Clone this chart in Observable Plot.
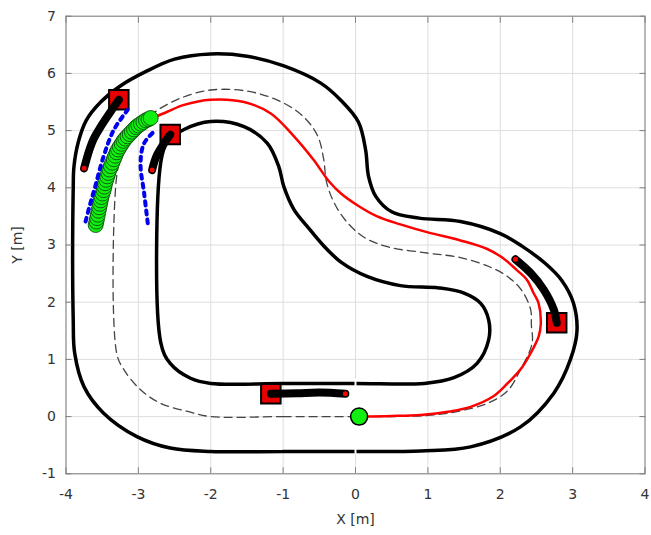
<!DOCTYPE html>
<html><head><meta charset="utf-8">
<script src="https://cdn.jsdelivr.net/npm/d3@7"></script>
<script src="https://cdn.jsdelivr.net/npm/@observablehq/plot@0.6"></script>
<style>html,body{margin:0;padding:0;background:#fff;}</style>
</head><body><div id="chart"></div>
<script>
const xTicks = [-4,-3,-2,-1,0,1,2,3,4];
const yTicks = [-1,0,1,2,3,4,5,6,7];

const outerBoundary = [
  [-2.0,-0.61],[-1.0,-0.61],[0.0,-0.61],[0.9,-0.6],[1.59,-0.53],[2.28,-0.18],[2.74,0.41],[2.97,1.0],
  [3.06,1.49],[3.01,1.99],[2.85,2.38],[2.62,2.68],[2.3,2.98],[2.0,3.2],[1.45,3.41],[0.88,3.47],
  [0.5,3.58],[0.28,3.85],[0.18,4.2],[0.14,4.66],[0.04,5.15],[-0.21,5.54],[-0.48,5.83],[-0.99,6.13],
  [-1.5,6.3],[-2.0,6.34],[-2.5,6.25],[-2.9,6.03],[-3.25,5.78],[-3.52,5.5],[-3.72,5.18],[-3.83,4.8],
  [-3.89,4.37],[-3.9,4.0],[-3.9,1.69],[-3.88,1.11],[-3.75,0.52],[-3.48,0.06],[-3.02,-0.35],[-2.56,-0.55]
];
const innerBoundary = [
  [-2.0,0.58],[-1.0,0.58],[0.0,0.58],[0.95,0.58],[1.36,0.68],[1.68,0.93],[1.84,1.34],[1.84,1.69],
  [1.73,1.98],[1.5,2.16],[1.15,2.25],[0.62,2.29],[0.16,2.45],[-0.2,2.7],[-0.45,3.0],[-0.65,3.3],
  [-0.85,3.62],[-0.99,4.02],[-1.06,4.37],[-1.22,4.78],[-1.54,5.07],[-2.0,5.16],[-2.37,5.02],[-2.6,4.8],
  [-2.69,4.45],[-2.69,1.29],[-2.56,0.93],[-2.28,0.67]
];
const centerLine = [
  [-2.0,0.0],[-1.0,0.0],[0.0,0.0],[1.0,0.02],[1.45,0.1],[1.82,0.23],[2.1,0.45],[2.28,0.82],
  [2.44,1.28],[2.43,1.6],[2.42,1.87],[2.3,2.2],[2.1,2.45],[1.85,2.62],[1.45,2.78],[0.99,2.86],
  [0.44,2.97],[0.1,3.15],[-0.15,3.45],[-0.3,3.75],[-0.4,4.1],[-0.44,4.5],[-0.52,4.9],[-0.7,5.22],
  [-0.99,5.48],[-1.45,5.68],[-2.0,5.71],[-2.45,5.55],[-2.8,5.3],[-3.05,5.0],[-3.22,4.6],[-3.3,4.2],
  [-3.3,1.11],[-3.2,0.82],[-2.97,0.47],[-2.69,0.23],[-2.32,0.09]
];
const startLine = [{x: 0, y1: -0.66, y2: 0.66}];
const redPath = [
  [0.05,0.0],[0.5,0.01],[0.9,0.03],[1.3,0.09],[1.59,0.17],[1.9,0.35],[2.1,0.58],[2.3,0.86],
  [2.42,1.11],[2.53,1.4],[2.56,1.62],[2.53,1.98],[2.46,2.16],[2.37,2.39],[2.23,2.56],[2.05,2.76],
  [1.82,2.93],[1.45,3.08],[1.0,3.22],[0.62,3.36],[0.3,3.5],[0.02,3.7],[-0.2,3.9],[-0.37,4.12],
  [-0.58,4.49],[-0.85,4.9],[-1.17,5.3],[-1.54,5.5],[-2.0,5.54],[-2.37,5.45],[-2.6,5.33],[-2.8,5.22]
];
const blueLeft = [[-3.73,3.41],[-3.67,3.7],[-3.61,3.96],[-3.48,4.55],[-3.34,5.01],[-3.15,5.36]];
const blueRight = [[-2.87,3.38],[-2.92,3.9],[-2.97,4.43],[-2.92,4.78],[-2.76,5.01]];
const greenTrail = [
  [-3.59,3.35],[-3.58,3.41],[-3.57,3.47],[-3.56,3.53],[-3.55,3.6],[-3.54,3.66],[-3.53,3.72],
  [-3.52,3.78],[-3.51,3.84],[-3.495,3.9],[-3.48,3.96],[-3.47,4.02],[-3.46,4.08],[-3.445,4.14],
  [-3.43,4.2],[-3.415,4.26],[-3.4,4.32],[-3.38,4.38],[-3.36,4.44],[-3.34,4.5],[-3.32,4.56],
  [-3.3,4.62],[-3.28,4.67],[-3.255,4.72],[-3.23,4.77],[-3.205,4.82],[-3.18,4.86],[-3.15,4.9],
  [-3.12,4.94],[-3.09,4.98],[-3.06,5.02],[-3.03,5.06],[-3.0,5.09],[-2.965,5.12],[-2.93,5.15],
  [-2.895,5.18],[-2.86,5.2],[-2.83,5.22]
];
const startPoint = [[0.05,0.0]];
const obstacles = [[-3.27,5.54],[-2.56,4.93],[-1.17,0.40],[2.78,1.64]];
const obstacleTrails = [
  [[-3.27,5.54],[-3.4,5.3],[-3.52,5.07],[-3.62,4.85],[-3.68,4.65],[-3.72,4.48],[-3.75,4.34]],
  [[-2.56,4.93],[-2.66,4.75],[-2.74,4.58],[-2.78,4.45],[-2.81,4.31]],
  [[-1.17,0.40],[-0.8,0.41],[-0.5,0.42],[-0.14,0.40]],
  [[2.78,1.64],[2.74,1.87],[2.6,2.22],[2.42,2.51],[2.21,2.75]]
];
const trailEnds = obstacleTrails.map(t => t[t.length - 1]);

const fmt = d => String(d);
const axisGray = "#808080";

const trailMarks = obstacleTrails.map(t =>
  Plot.line(t, {stroke: "black", strokeWidth: 8, strokeLinecap: "round", strokeLinejoin: "round", curve: "catmull-rom"})
);

const chart = Plot.plot({
  width: 651, height: 535,
  marginLeft: 65.5, marginRight: 6.5, marginTop: 15.7, marginBottom: 61.7,
  x: {domain: [-4, 4]},
  y: {domain: [-1, 7]},
  style: {fontFamily: "DejaVu Sans, sans-serif", fontSize: "14px", color: "#333", background: "#fff"},
  marks: [
    Plot.gridX(xTicks, {stroke: "#dedede", strokeOpacity: 1}),
    Plot.gridY(yTicks, {stroke: "#dedede", strokeOpacity: 1}),
    Plot.line(outerBoundary, {stroke: "black", strokeWidth: 3.5, curve: "catmull-rom-closed"}),
    Plot.line(innerBoundary, {stroke: "black", strokeWidth: 3.5, curve: "catmull-rom-closed"}),
    Plot.ruleX(startLine, {x: "x", y1: "y1", y2: "y2", stroke: "white", strokeWidth: 2}),
    Plot.line(centerLine, {stroke: "#444", strokeWidth: 1.3, strokeDasharray: "8,5", curve: "catmull-rom-closed"}),
    Plot.line(redPath, {stroke: "#ff0000", strokeWidth: 2.5, curve: "catmull-rom"}),
    Plot.dot(obstacles, {symbol: "square", r: 11, fill: "#e80000", stroke: "black", strokeWidth: 2}),
    ...trailMarks,
    Plot.dot(trailEnds, {r: 2.5, fill: "#ff0000", stroke: "none"}),
    Plot.dot(greenTrail, {r: 7.5, fill: "#10f010", stroke: "#0a3a0a", strokeWidth: 0.8}),
    Plot.line(blueLeft, {stroke: "#0000ee", strokeWidth: 4, strokeDasharray: "4,5", curve: "catmull-rom"}),
    Plot.line(blueRight, {stroke: "#0000ee", strokeWidth: 4, strokeDasharray: "4,5", curve: "catmull-rom"}),
    Plot.dot(startPoint, {r: 8.5, fill: "#10f010", stroke: "black", strokeWidth: 1.5}),
    Plot.frame({stroke: axisGray}),
    Plot.axisX(xTicks, {anchor: "bottom", tickSize: 0, tickPadding: 15, tickFormat: fmt, label: "X [m]", labelArrow: "none", labelAnchor: "center", labelOffset: 50}),
    Plot.axisX(xTicks, {anchor: "bottom", tickSize: -6, fill: "none", stroke: axisGray, label: null}),
    Plot.axisX(xTicks, {anchor: "top", tickSize: -6, fill: "none", stroke: axisGray, label: null}),
    Plot.axisY(yTicks, {anchor: "left", tickSize: 0, tickPadding: 10, tickFormat: fmt, label: "Y [m]", labelArrow: "none", labelAnchor: "center", labelOffset: 54}),
    Plot.axisY(yTicks, {anchor: "left", tickSize: -6, fill: "none", stroke: axisGray, label: null}),
    Plot.axisY(yTicks, {anchor: "right", tickSize: -6, fill: "none", stroke: axisGray, label: null})
  ]
});
document.getElementById("chart").appendChild(chart);
</script>
</body></html>
